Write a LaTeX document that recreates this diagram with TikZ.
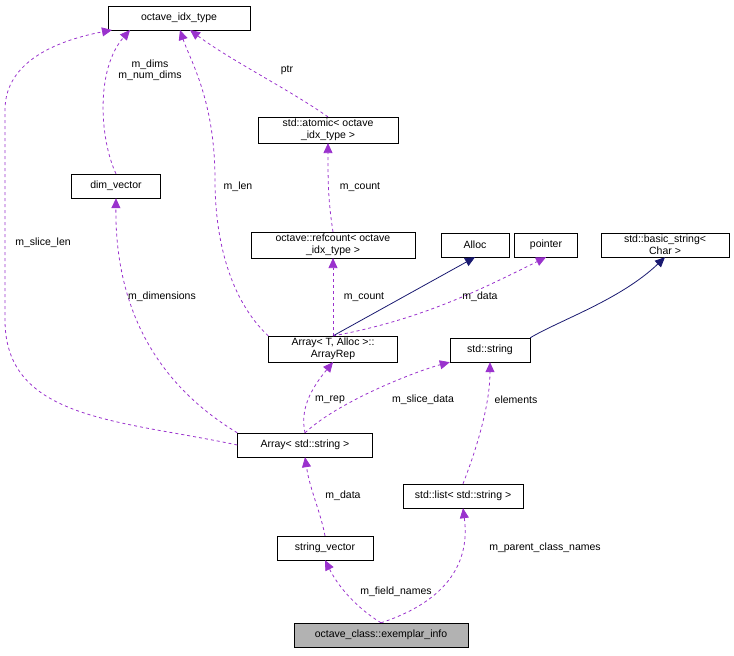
\documentclass[tikz,border=0pt]{standalone}
\usepackage{fontspec}
\setmainfont{Liberation Sans}
\usetikzlibrary{arrows.meta}
\definecolor{dorchid}{HTML}{9A32CD}
\definecolor{mnavy}{HTML}{191970}
\tikzset{
	cls/.style={draw, fill=white, inner sep=2pt, minimum height=24pt, align=center, font=\fontsize{10.5}{12}\selectfont},
	dep/.style={dashed, color=dorchid, line width=0.8pt, -{Triangle[length=10pt,width=9pt]}},
	inh/.style={color=mnavy, line width=0.8pt, -{Triangle[length=10pt,width=9pt]}},
	lbl/.style={font=\fontsize{10.5}{11}\selectfont, align=center}
}
\begin{document}
\begin{tikzpicture}[x=1pt,y=-1pt]
	\useasboundingbox (0,0) rectangle (734,656);
	\node[cls, minimum width=142pt] (idx) at (179,18) {octave\_idx\_type};
	\node[cls, minimum width=89pt] (dimv) at (116,186) {dim\_vector};
	\node[cls, minimum width=140pt] (atom) at (328,130) {std::atomic\textless{} octave\\\_idx\_type \textgreater{}};
	\node[cls, minimum width=164pt] (refc) at (333,245) {octave::refcount\textless{} octave\\\_idx\_type \textgreater{}};
	\node[cls, minimum width=68pt] (alloc) at (475,245) {Alloc};
	\node[cls, minimum width=63pt] (ptr) at (546,245) {pointer};
	\node[cls, minimum width=128pt] (bstr) at (665,245) {std::basic\_string\textless{}\\Char \textgreater{}};
	\node[cls, minimum width=129pt] (rep) at (333,349) {Array\textless{} T, Alloc \textgreater{}::\\ArrayRep};
	\node[cls, minimum width=80pt] (str) at (490,350) {std::string};
	\node[cls, minimum width=135pt] (arr) at (305,445) {Array\textless{} std::string \textgreater{}};
	\node[cls, minimum width=120pt] (lst) at (463,496) {std::list\textless{} std::string \textgreater{}};
	\node[cls, minimum width=96pt] (svec) at (325,548) {string\_vector};
	\node[cls, minimum width=174pt, fill=black!30] (info) at (381,635) {octave\_class::exemplar\_info};

	\draw[dep] (dimv.north) .. controls (100,140) and (95,70) .. (130,30);
	\node[lbl] at (150,70) {m\_dims\\m\_num\_dims};
	\draw[dep] (arr.west) .. controls (120,420) and (5,420) .. (5,320) -- (5,110) .. controls (5,60) and (60,40) .. (112,30);
	\node[lbl] at (43,243) {m\_slice\_len};
	\draw[dep] (rep.north west) .. controls (230,300) and (215,240) .. (215,180) .. controls (215,100) and (190,60) .. (180,30);
	\node[lbl] at (238,187) {m\_len};
	\draw[dep] (atom.north) .. controls (290,90) and (230,60) .. (190,30);
	\node[lbl] at (287,70) {ptr};
	\draw[dep] (refc.north) .. controls (328,200) and (328,180) .. (atom.south);
	\node[lbl] at (360,187) {m\_count};
	\draw[dep] (rep.north) -- (refc.south);
	\node[lbl] at (364,297) {m\_count};
	\draw[inh] (rep.north) -- (alloc.south);
	\draw[dep] (rep.north) .. controls (420,320) and (480,290) .. (ptr.south);
	\node[lbl] at (480,297) {m\_data};
	\draw[inh] (str.north east) .. controls (560,320) and (620,300) .. (bstr.south);
	\draw[dep] (arr.north west) .. controls (150,380) and (115,300) .. (dimv.south);
	\node[lbl] at (162,297) {m\_dimensions};
	\draw[dep] (arr.north) .. controls (300,410) and (310,390) .. (rep.south);
	\node[lbl] at (330,400) {m\_rep};
	\draw[dep] (arr.north) .. controls (340,400) and (420,370) .. (str.south west);
	\node[lbl] at (423,400) {m\_slice\_data};
	\draw[dep] (lst.north) .. controls (480,440) and (490,400) .. (str.south);
	\node[lbl] at (516,400) {elements};
	\draw[dep] (svec.north) .. controls (320,510) and (310,490) .. (arr.south);
	\node[lbl] at (343,496) {m\_data};
	\draw[dep] (info.north) .. controls (360,610) and (340,590) .. (svec.south);
	\node[lbl] at (396,592) {m\_field\_names};
	\draw[dep] (info.north) .. controls (450,600) and (470,560) .. (lst.south);
	\node[lbl] at (545,548) {m\_parent\_class\_names};
\end{tikzpicture}
\end{document}
